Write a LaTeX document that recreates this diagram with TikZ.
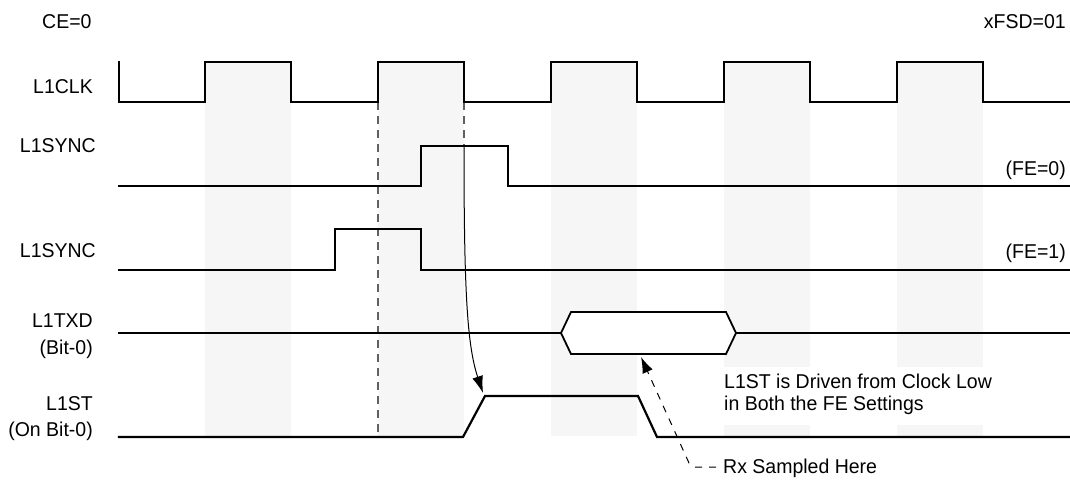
\documentclass[tikz,border=0pt]{standalone}
\usepackage{fontspec}
\setmainfont[FakeStretch=0.975]{Liberation Sans}
\usetikzlibrary{arrows.meta}
\definecolor{bandgray}{HTML}{F6F6F6}
\definecolor{dashgray}{HTML}{606060}
\begin{document}
\begin{tikzpicture}[x=1pt,y=-1pt,
  sig/.style={line width=2.2pt, line join=miter, line cap=rect},
  hexsig/.style={line width=1.8pt, line join=miter, fill=white},
  band/.style={fill=bandgray, draw=none},
  guide/.style={draw=dashgray, line width=1.2pt, dash pattern=on 8pt off 6pt},
  lbl/.style={font=\fontsize{20}{24}\selectfont, inner sep=0pt},
  thinarrow/.style={line width=1pt, -{Latex[length=17pt,width=11pt]}},
  rxarrow/.style={line width=1pt, dash pattern=on 7pt off 7pt, -{Latex[length=16pt,width=11pt]}}]
\useasboundingbox (0,0) rectangle (1070,482);
% shaded bands for clock-high periods
\foreach \x in {205,378,551,724,897}
  \fill[band] (\x,62) rectangle ({\x+86},436);
\fill[white] (721,367) rectangle (998,425);

% labels
\node[lbl, anchor=base west] (ce) at (42,28) {CE=0};
\node[lbl, anchor=base east] (fsd) at (1066,28) {xFSD=01};
\node[lbl, anchor=base east] (lclk) at (93,93) {L1CLK};
\node[lbl, anchor=base east] (lsync0) at (96,152) {L1SYNC};
\node[lbl, anchor=base east] (lsync1) at (96,257) {L1SYNC};
\node[lbl, anchor=base east] (fe0) at (1066,175) {(FE=0)};
\node[lbl, anchor=base east] (fe1) at (1066,258) {(FE=1)};
\node[lbl, anchor=base east] (ltxd) at (93,327) {L1TXD};
\node[lbl, anchor=base east] (lbit) at (93,354) {(Bit-0)};
\node[lbl, anchor=base east] (lst) at (93,410) {L1ST};
\node[lbl, anchor=base east] (lonbit) at (93,436) {(On Bit-0)};
\node[lbl, anchor=base west] (note1) at (724,388) {L1ST is Driven from Clock Low};
\node[lbl, anchor=base west] (note2) at (724,410) {in Both the FE Settings};
\node[lbl, anchor=base west] (rx) at (723,473) {Rx Sampled Here};

% guide lines
\coordinate (g1top) at (378,102);
\coordinate (g1bot) at (378,437);
\coordinate (g2top) at (464,102);
\coordinate (g2bot) at (464,146);
\draw[guide] (g1top) -- (g1bot);
\draw[guide] (g2top) -- (g2bot);

% L1CLK
\draw[sig] (119,62) -- (119,102) -- (205,102) -- (205,62) -- (291,62) -- (291,102)
  -- (378,102) -- (378,62) -- (464,62) -- (464,102)
  -- (551,102) -- (551,62) -- (637,62) -- (637,102)
  -- (724,102) -- (724,62) -- (810,62) -- (810,102)
  -- (897,102) -- (897,62) -- (983,62) -- (983,102) -- (1070,102);
% L1SYNC FE=0
\draw[sig] (119,186) -- (421,186) -- (421,146) -- (508,146) -- (508,186) -- (1070,186);
% L1SYNC FE=1
\draw[sig] (119,270) -- (335,270) -- (335,229) -- (421,229) -- (421,270) -- (1070,270);
% L1TXD
\draw[sig] (119,333) -- (561,333);
\draw[sig] (736,333) -- (1070,333);
\draw[hexsig] (561,333) -- (571,312) -- (726,312) -- (736,333) -- (726,354) -- (571,354) -- cycle;
\coordinate (txdbot) at (641,357);
% L1ST
\coordinate (strise) at (483,393);
\draw[sig] (119,437) -- (463,437) -- (485,396) -- (638,396) -- (657,437) -- (1070,437);

% arrows
\draw[thinarrow] (g2bot) .. controls (464,290) and (467,345) .. (strise);
\coordinate (rxhook) at (716,467);
\draw[rxarrow] (rxhook) -- (695,467) -- (689,463) -- (txdbot);
\end{tikzpicture}
\end{document}
